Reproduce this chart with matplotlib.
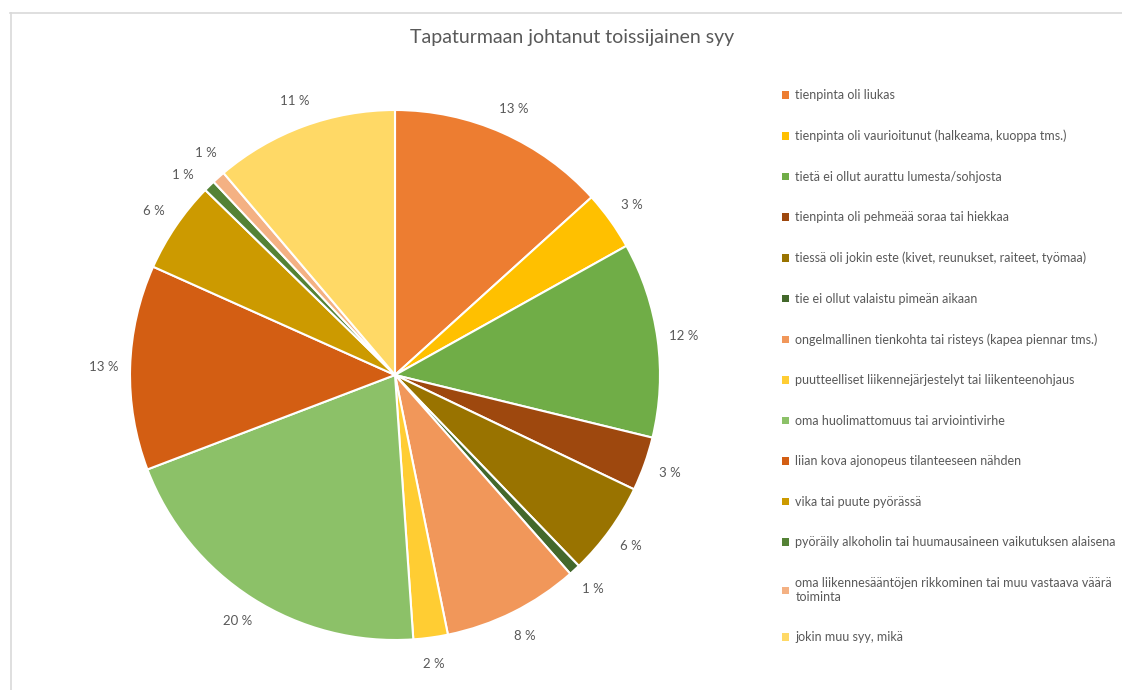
from matplotlib import pyplot as plt
from matplotlib.lines import Line2D
from matplotlib.patches import Patch
import numpy as np

plt.rcParams['font.family'] = ['Lato', 'DejaVu Sans']

# syyt ja osuudet (%), luettu kuvasta
syyt = [
    'tienpinta oli liukas',
    'tienpinta oli vaurioitunut (halkeama, kuoppa tms.)',
    'tietä ei ollut aurattu lumesta/sohjosta',
    'tienpinta oli pehmeää soraa tai hiekkaa',
    'tiessä oli jokin este (kivet, reunukset, raiteet, työmaa)',
    'tie ei ollut valaistu pimeän aikaan',
    'ongelmallinen tienkohta tai risteys (kapea piennar tms.)',
    'puutteelliset liikennejärjestelyt tai liikenteenohjaus',
    'oma huolimattomuus tai arviointivirhe',
    'liian kova ajonopeus tilanteeseen nähden',
    'vika tai puute pyörässä',
    'pyöräily alkoholin tai huumausaineen vaikutuksen alaisena',
    'oma liikennesääntöjen rikkominen tai muu vastaava väärä\ntoiminta',
    'jokin muu syy, mikä',
]
osuudet = [13.3, 3.6, 11.9, 3.3, 5.7, 0.7, 8.3, 2.1, 20.3, 12.5, 5.6, 0.7, 0.8, 11.2]
prosentit = ['13 %', '3 %', '12 %', '3 %', '6 %', '1 %', '8 %', '2 %',
             '20 %', '13 %', '6 %', '1 %', '1 %', '11 %']
varit = ['#ED7D31', '#FFC000', '#70AD47', '#9E480E', '#997300', '#43682B',
         '#F1975A', '#FFCD33', '#8CC168', '#D35E13', '#CC9A00', '#548235',
         '#F4B183', '#FFD966']

fig = plt.figure(figsize=(11.22, 6.90), dpi=100)

# kehys
fig.add_artist(Line2D([10/1122, 1], [1-12.5/690, 1-12.5/690], color='#D9D9D9', lw=1.2))
fig.add_artist(Line2D([10.5/1122, 10.5/1122], [0, 1-12.5/690], color='#D9D9D9', lw=1.2))

fig.text(572/1122, 1-38/690, 'Tapaturmaan johtanut toissijainen syy',
         ha='center', va='center', fontsize=14, color='#595959')

ax = fig.add_axes([130/1122, 50/690, 530/1122, 530/690])
it = iter(prosentit)
wedges, texts, autotexts = ax.pie(osuudet, colors=varit, startangle=90, counterclock=False,
                                  radius=1, autopct=lambda p: next(it), pctdistance=1.1,
                                  wedgeprops=dict(edgecolor='white', linewidth=1.5),
                                  textprops=dict(fontsize=9.5, color='#595959'))

# pienet 1 % -osuudet erilleen toisistaan
for i, siirto in [(11, -4.0), (12, 5.0)]:
    w = wedges[i]
    kulma = np.deg2rad((w.theta1 + w.theta2) / 2 + siirto)
    autotexts[i].set_position((1.1 * np.cos(kulma), 1.1 * np.sin(kulma)))

ax.set_xlim(-1, 1)
ax.set_ylim(-1, 1)
ax.set_aspect('equal')
ax.axis('off')

handles = [Patch(facecolor=c, edgecolor='none') for c in varit]
leg = fig.legend(handles, syyt, loc='upper left', bbox_to_anchor=(771/1122, 1-78/690),
                 frameon=False, fontsize=9, labelcolor='#595959',
                 handlelength=0.55, handleheight=0.55, handletextpad=0.5,
                 labelspacing=2.28)

plt.savefig('out.png', dpi=100)
